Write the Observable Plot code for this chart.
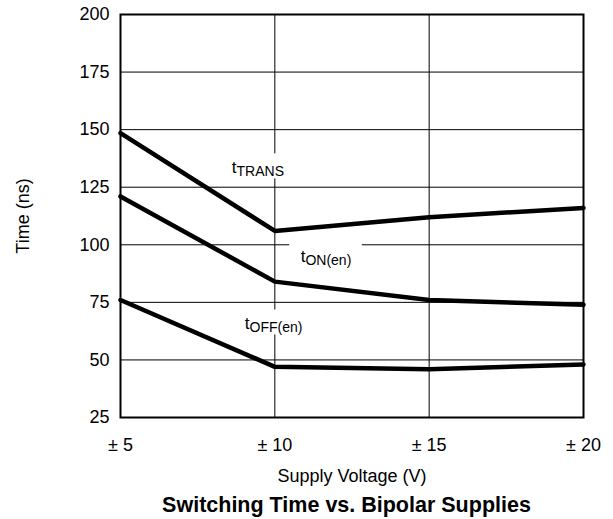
<!DOCTYPE html>
<html>
<head>
<meta charset="utf-8">
<script src="https://cdn.jsdelivr.net/npm/d3@7"></script>
<script src="https://cdn.jsdelivr.net/npm/@observablehq/plot@0.6"></script>
<style>
  body { margin: 0; background: #fff; font-family: "Liberation Sans", Arial, sans-serif; }
  #chart svg { display: block; }
  #title { width: 613px; text-align: center; font-weight: bold; font-size: 21.5px; line-height: 24px; padding-left: 80px; box-sizing: border-box; color: #000; white-space: nowrap; }
</style>
</head>
<body>
<div id="chart"></div>
<div id="title">Switching Time vs. Bipolar Supplies</div>
<script>
const voltages = [5, 10, 15, 20];
const tTrans = [148.5, 106, 112, 116];
const tOn = [121, 84, 76, 74];
const tOff = [76, 47, 46, 48];
const yTicks = [25, 50, 75, 100, 125, 150, 175, 200];
const labels = [
  {x: 8.76, y: 133.6, main: "t", sub: "TRANS"},
  {x: 10.99, y: 94.9, main: "t", sub: "ON(en)"},
  {x: 9.18, y: 65.8, main: "t", sub: "OFF(en)"}
];

const series = [
  ...voltages.map((v, i) => ({v, t: tTrans[i], s: "tTRANS"})),
  ...voltages.map((v, i) => ({v, t: tOn[i], s: "tON"})),
  ...voltages.map((v, i) => ({v, t: tOff[i], s: "tOFF"}))
];

const chart = Plot.plot({
  width: 613,
  height: 493,
  marginLeft: 120,
  marginRight: 30,
  marginTop: 14,
  marginBottom: 76,
  style: {fontFamily: "'Liberation Sans', Arial, sans-serif", fontSize: "17.5px", color: "black", background: "white"},
  x: {domain: [5, 20]},
  y: {domain: [25, 200]},
  marks: [
    Plot.gridX(voltages, {stroke: "black", strokeOpacity: 1, strokeWidth: 1}),
    Plot.gridY(yTicks, {stroke: "black", strokeOpacity: 1, strokeWidth: 1}),
    Plot.line(series, {x: "v", y: "t", z: "s", stroke: "black", strokeWidth: 4.5}),
    Plot.text(labels, {x: "x", y: "y", text: "main", textAnchor: "end", fontSize: 17, fill: "black"}),
    Plot.text(labels, {x: "x", y: "y", text: "sub", textAnchor: "start", dy: 4, fontSize: 14, fill: "black"}),
    Plot.frame({stroke: "black", strokeWidth: 2}),
    Plot.axisX(voltages, {tickSize: 0, tickPadding: 21, tickFormat: d => "± " + d, fontSize: 18, label: "Supply Voltage (V)", labelAnchor: "center", labelOffset: 64, labelArrow: "none"}),
    Plot.axisY(yTicks, {tickSize: 0, tickPadding: 11, fontSize: 18, label: "Time (ns)", labelAnchor: "center", labelOffset: 104, labelArrow: "none"})
  ]
});
document.getElementById("chart").appendChild(chart);

// white backing boxes behind the curve labels (they hide the gridlines, as in the original)
const textGroups = chart.querySelectorAll('g[aria-label="text"]');
const lineGroup = chart.querySelector('g[aria-label="line"]');
if (textGroups.length >= 2 && lineGroup) {
  const mains = textGroups[0].querySelectorAll("text");
  const subs = textGroups[1].querySelectorAll("text");
  mains.forEach((m, i) => {
    const a = m.getBBox(), b = subs[i].getBBox();
    const tm = m.getAttribute("transform") || "";
    const ts = subs[i].getAttribute("transform") || "";
    const pm = (tm.match(/translate\(([-\d.]+),([-\d.]+)\)/) || [0, 0, 0]).slice(1).map(Number);
    const ps = (ts.match(/translate\(([-\d.]+),([-\d.]+)\)/) || [0, 0, 0]).slice(1).map(Number);
    const x0 = Math.min(a.x + pm[0], b.x + ps[0]), y0 = Math.min(a.y + pm[1], b.y + ps[1]);
    const x1 = Math.max(a.x + pm[0] + a.width, b.x + ps[0] + b.width);
    const y1 = Math.max(a.y + pm[1] + a.height, b.y + ps[1] + b.height);
    const r = document.createElementNS("http://www.w3.org/2000/svg", "rect");
    r.setAttribute("x", x0 - 11);
    r.setAttribute("y", y0 - 4);
    r.setAttribute("width", x1 - x0 + 22);
    r.setAttribute("height", y1 - y0 + 6);
    r.setAttribute("fill", "white");
    chart.insertBefore(r, lineGroup);
  });
}
</script>
</body>
</html>
